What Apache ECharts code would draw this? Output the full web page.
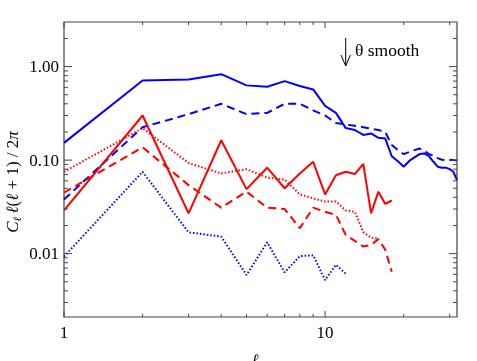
<!DOCTYPE html>
<html>
<head>
<meta charset="utf-8">
<script src="https://cdn.jsdelivr.net/npm/echarts@6/dist/echarts.min.js"></script>
<style>html,body{margin:0;padding:0;background:#fff;}#c{width:477px;height:361px;}</style>
</head>
<body>
<div id="c"></div>
<script>
// ---- data ----
const ellAll = [1,2,3,4,5,6,7,8,9,10,11,12,13,14,15,16,17,18,19,20,21,22,23,24,25,26,27,28,29,30,31,32];
const blueSolid = [0.153,0.71,0.73,0.83,0.63,0.61,0.70,0.62,0.57,0.38,0.32,0.22,0.21,0.186,0.193,0.173,0.17,0.11,0.097,0.085,0.098,0.107,0.116,0.118,0.11,0.096,0.085,0.083,0.083,0.08,0.075,0.061];
const blueDashed = [0.038,0.225,0.31,0.40,0.31,0.32,0.40,0.40,0.34,0.30,0.25,0.24,0.233,0.225,0.217,0.21,0.2,0.145,0.128,0.116,0.122,0.128,0.133,0.126,0.116,0.112,0.105,0.101,0.1,0.1,0.1,0.099];
const redSolid = [0.029,0.30,0.027,0.163,0.049,0.083,0.050,0.072,0.096,0.043,0.069,0.075,0.071,0.091,0.027,0.046,0.034,0.037];
const redDashed = [0.045,0.137,0.054,0.031,0.046,0.031,0.030,0.0187,0.031,0.028,0.026,0.0158,0.0137,0.0119,0.0124,0.0143,0.011,0.0064];
const redDotted = [0.075,0.22,0.093,0.072,0.080,0.065,0.062,0.043,0.039,0.036,0.036,0.029,0.028,0.017,0.0148,0.0145];
const blueDotted = [0.0093,0.075,0.0169,0.0152,0.0059,0.0132,0.0063,0.0094,0.0096,0.0052,0.0076,0.0061];

const xMajorTicks = [1, 10];
const xTickLabels = ['1', '10'];
const xMinorTicks = [2,3,4,5,6,7,8,9,20,30];
const yMajorTicks = [0.01, 0.1, 1];
const yTickLabels = ['0.01', '0.10', '1.00'];
const yMinorTicks = [0.003,0.004,0.005,0.006,0.007,0.008,0.009,0.02,0.03,0.04,0.05,0.06,0.07,0.08,0.09,0.2,0.3,0.4,0.5,0.6,0.7,0.8,0.9,2];

const annotation = 'θ smooth';

function pairs(vals){ return vals.map((v,i)=>[ellAll[i], v]); }

const FONT = '"Liberation Serif", "DejaVu Serif", serif';
const AX = '#444';

const xTickData = xMajorTicks.map((v,i)=>[v,1,1,i]).concat(xMinorTicks.map(v=>[v,1,0,-1]));
const yTickData = yMajorTicks.map((v,i)=>[1,v,1,i]).concat(yMinorTicks.map(v=>[1,v,0,-1]));

function lineSeries(vals, color, type){
  return {
    type:'line', data: pairs(vals), showSymbol:false, symbol:'none', smooth:false,
    lineStyle:{color:color, width:2, type:type, cap:'butt'},
    silent:true, animation:false, z:3
  };
}

const chart = echarts.init(document.getElementById('c'), null, {renderer:'canvas'});
chart.setOption({
  animation:false,
  backgroundColor:'#fff',
  grid:{left:64, right:20, top:22, bottom:44, show:true, borderColor:AX, borderWidth:1.2, backgroundColor:'transparent'},
  xAxis:{type:'log', logBase:10, min:1, max:32, axisLine:{show:false}, axisTick:{show:false}, axisLabel:{show:false}, splitLine:{show:false}},
  yAxis:{type:'log', logBase:10, min:0.0021, max:3, axisLine:{show:false}, axisTick:{show:false}, axisLabel:{show:false}, splitLine:{show:false}},
  series:[
    lineSeries(blueSolid, '#0000ff', 'solid'),
    lineSeries(blueDashed, '#0000ff', [8,5]),
    lineSeries(redSolid, '#ff0000', 'solid'),
    lineSeries(redDashed, '#ff0000', [8,5]),
    lineSeries(redDotted, '#ff0000', [1.5,2]),
    lineSeries(blueDotted, '#0000ff', [1.5,2]),
    {
      type:'custom', data:xTickData, clip:false, silent:true, z:5, encode:{x:0,y:1},
      renderItem:function(params, api){
        const cs = params.coordSys;
        const x = api.coord([api.value(0), 1])[0];
        const major = api.value(2) === 1;
        const len = major ? 6 : 3;
        const yb = cs.y + cs.height, yt = cs.y;
        const ch = [
          {type:'line', shape:{x1:x,y1:yb,x2:x,y2:yb-len}, style:{stroke:AX, lineWidth:1}},
          {type:'line', shape:{x1:x,y1:yt,x2:x,y2:yt+len}, style:{stroke:AX, lineWidth:1}}
        ];
        const li = api.value(3);
        if (li >= 0) ch.push({type:'text', style:{text:xTickLabels[li], x:x, y:yb+17, align:'center', verticalAlign:'middle', font:'17px '+FONT, fill:'#000'}});
        return {type:'group', children:ch};
      }
    },
    {
      type:'custom', data:yTickData, clip:false, silent:true, z:5, encode:{x:0,y:1},
      renderItem:function(params, api){
        const cs = params.coordSys;
        const y = api.coord([1, api.value(1)])[1];
        const major = api.value(2) === 1;
        const len = major ? 8 : 4;
        const xl = cs.x, xr = cs.x + cs.width;
        const ch = [
          {type:'line', shape:{x1:xl,y1:y,x2:xl+len,y2:y}, style:{stroke:AX, lineWidth:1}},
          {type:'line', shape:{x1:xr,y1:y,x2:xr-len,y2:y}, style:{stroke:AX, lineWidth:1}}
        ];
        const li = api.value(3);
        if (li >= 0) ch.push({type:'text', style:{text:yTickLabels[li], x:xl-5, y:y+1, align:'right', verticalAlign:'middle', font:'17px '+FONT, fill:'#000'}});
        return {type:'group', children:ch};
      }
    }
  ],
  graphic:[
    {type:'line', shape:{x1:345.7,y1:38,x2:345.7,y2:66}, style:{stroke:'#000', lineWidth:1}, silent:true},
    {type:'polyline', shape:{points:[[341,55],[345.7,66],[350.4,55]]}, style:{stroke:'#000', lineWidth:1, fill:null}, silent:true},
    {type:'text', x:355, y:51, style:{text:annotation, font:'17.5px '+FONT, fill:'#000', align:'left', verticalAlign:'middle'}, silent:true},
    {type:'text', x:14, y:182, rotation:Math.PI/2, silent:true,
     style:{
       text:'{i|C}{s|ℓ} {i|ℓ}{n|(}{i|ℓ}{n| + 1) / 2}{i|π}',
       align:'center', verticalAlign:'middle', fill:'#000',
       rich:{
         i:{fontFamily:FONT, fontSize:17, fontStyle:'italic', lineHeight:20, verticalAlign:'middle'},
         n:{fontFamily:FONT, fontSize:17, lineHeight:20, verticalAlign:'middle'},
         s:{fontFamily:FONT, fontSize:11, fontStyle:'italic', lineHeight:11, verticalAlign:'bottom'}
       }
     }},
    {type:'text', x:255, y:353, silent:true, style:{text:'ℓ', font:'italic 16px '+FONT, fill:'#000', align:'center', verticalAlign:'top'}}
  ]
});
</script>
</body>
</html>
